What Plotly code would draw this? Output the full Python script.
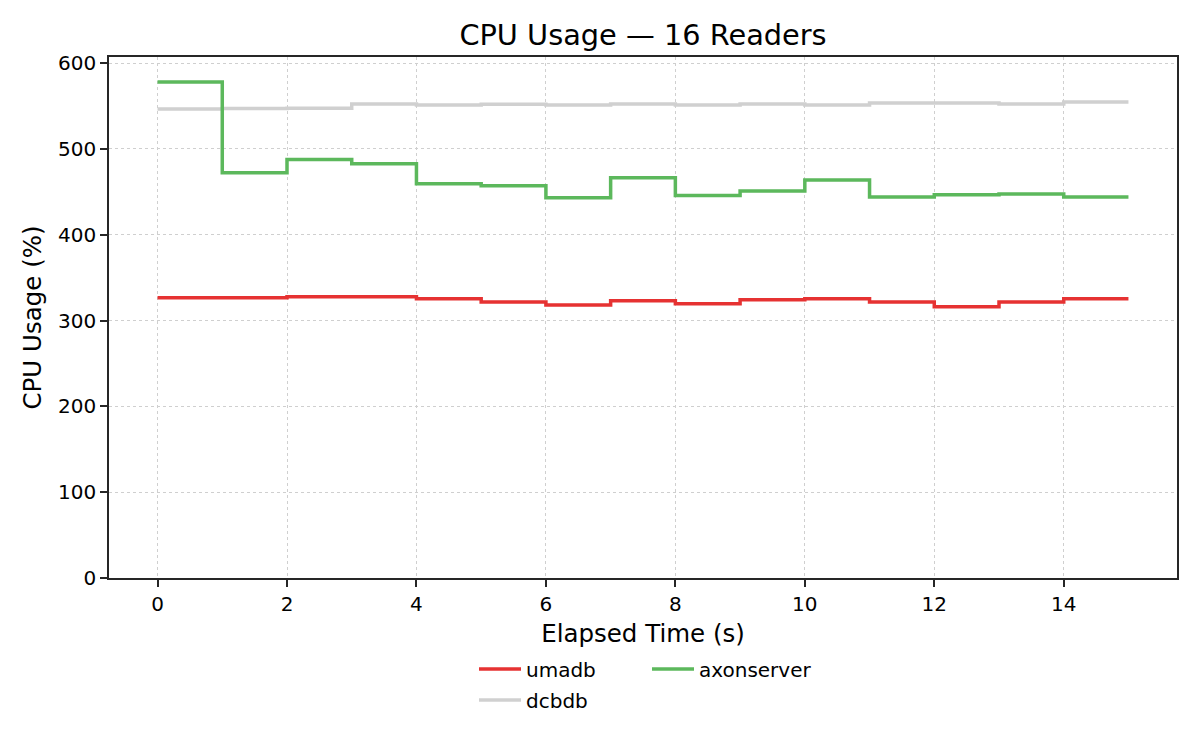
import plotly.graph_objects as go

# elapsed seconds and cpu % per series
elapsed = list(range(16))

umadb = [326.4, 326.4, 327.6, 327.6, 325.2, 321.7, 318.2, 322.9,
         319.4, 324.1, 325.2, 321.7, 315.9, 321.7, 325.2, 325.2]
axonserver = [578.0, 472.0, 487.5, 482.5, 459.2, 456.9, 442.9, 466.2,
              445.6, 451.0, 463.8, 444.0, 446.4, 447.5, 444.0, 444.0]
dcbdb = [546.5, 546.9, 547.3, 552.3, 551.1, 551.9, 551.1, 552.3,
         551.1, 552.3, 551.1, 553.5, 553.5, 552.3, 554.6, 554.6]

series = [
    ("umadb", umadb, "#e63232", "legend"),
    ("axonserver", axonserver, "#5cb85c", "legend2"),
    ("dcbdb", dcbdb, "#d0d0d0", "legend3"),
]

FONT = "DejaVu Sans"
INK = "#262626"

fig = go.Figure()
# dcbdb underneath the others
for name, vals, color, leg in [series[2], series[0], series[1]]:
    fig.add_trace(go.Scatter(
        x=elapsed, y=vals, name=name, mode="lines",
        line=dict(color=color, width=3.5, shape="hv"),
        legend=leg, showlegend=True,
    ))

# page body adds an 8px margin, so the figure is 8px smaller and
# screen positions below are shifted back by that much
OFF = 8
W, H = 1200 - OFF, 750 - OFF
L, T = 109 - OFF, 57 - OFF
R, B = W - (1177 - OFF), H - (578 - OFF)
pw, ph = W - L - R, H - T - B


def px_x(p):
    return (p - OFF - L) / pw


def px_y(p):
    return (H - B - (p - OFF)) / ph


leg_common = dict(
    orientation="v", xanchor="left", yanchor="middle", itemwidth=42,
    font=dict(family=FONT, size=20, color="black"),
    bgcolor="rgba(0,0,0,0)", borderwidth=0,
)

fig.update_layout(
    width=W, height=H,
    margin=dict(l=L, r=R, t=T, b=B),
    paper_bgcolor="white", plot_bgcolor="white",
    showlegend=True,
    font=dict(family=FONT, color="black"),
    title=dict(text="CPU Usage — 16 Readers", x=px_x(643), xref="paper",
               xanchor="center", y=1 - (35 - OFF) / H, yanchor="middle",
               font=dict(family=FONT, size=28.8, color="black")),
    legend=dict(x=px_x(474), y=px_y(669), **leg_common),
    legend2=dict(x=px_x(647), y=px_y(669), **leg_common),
    legend3=dict(x=px_x(474), y=px_y(700), **leg_common),
)

axis_common = dict(
    showline=True, linecolor=INK, linewidth=1.6, mirror=True,
    ticks="outside", ticklen=7, tickwidth=1.6, tickcolor=INK,
    tickfont=dict(family=FONT, size=20, color="black"),
    showgrid=True, gridcolor="#cfcfcf", gridwidth=1.2, griddash="dot",
    zeroline=False,
)

fig.update_xaxes(
    range=[-0.75, 15.75], tick0=0, dtick=2,
    title=dict(text="Elapsed Time (s)", standoff=10,
               font=dict(family=FONT, size=24.5, color="black")),
    **axis_common,
)
fig.update_yaxes(
    range=[0, 607], tick0=0, dtick=100,
    title=dict(text="CPU Usage (%)", standoff=9,
               font=dict(family=FONT, size=24.5, color="black")),
    **axis_common,
)

fig.write_html("out.html")
